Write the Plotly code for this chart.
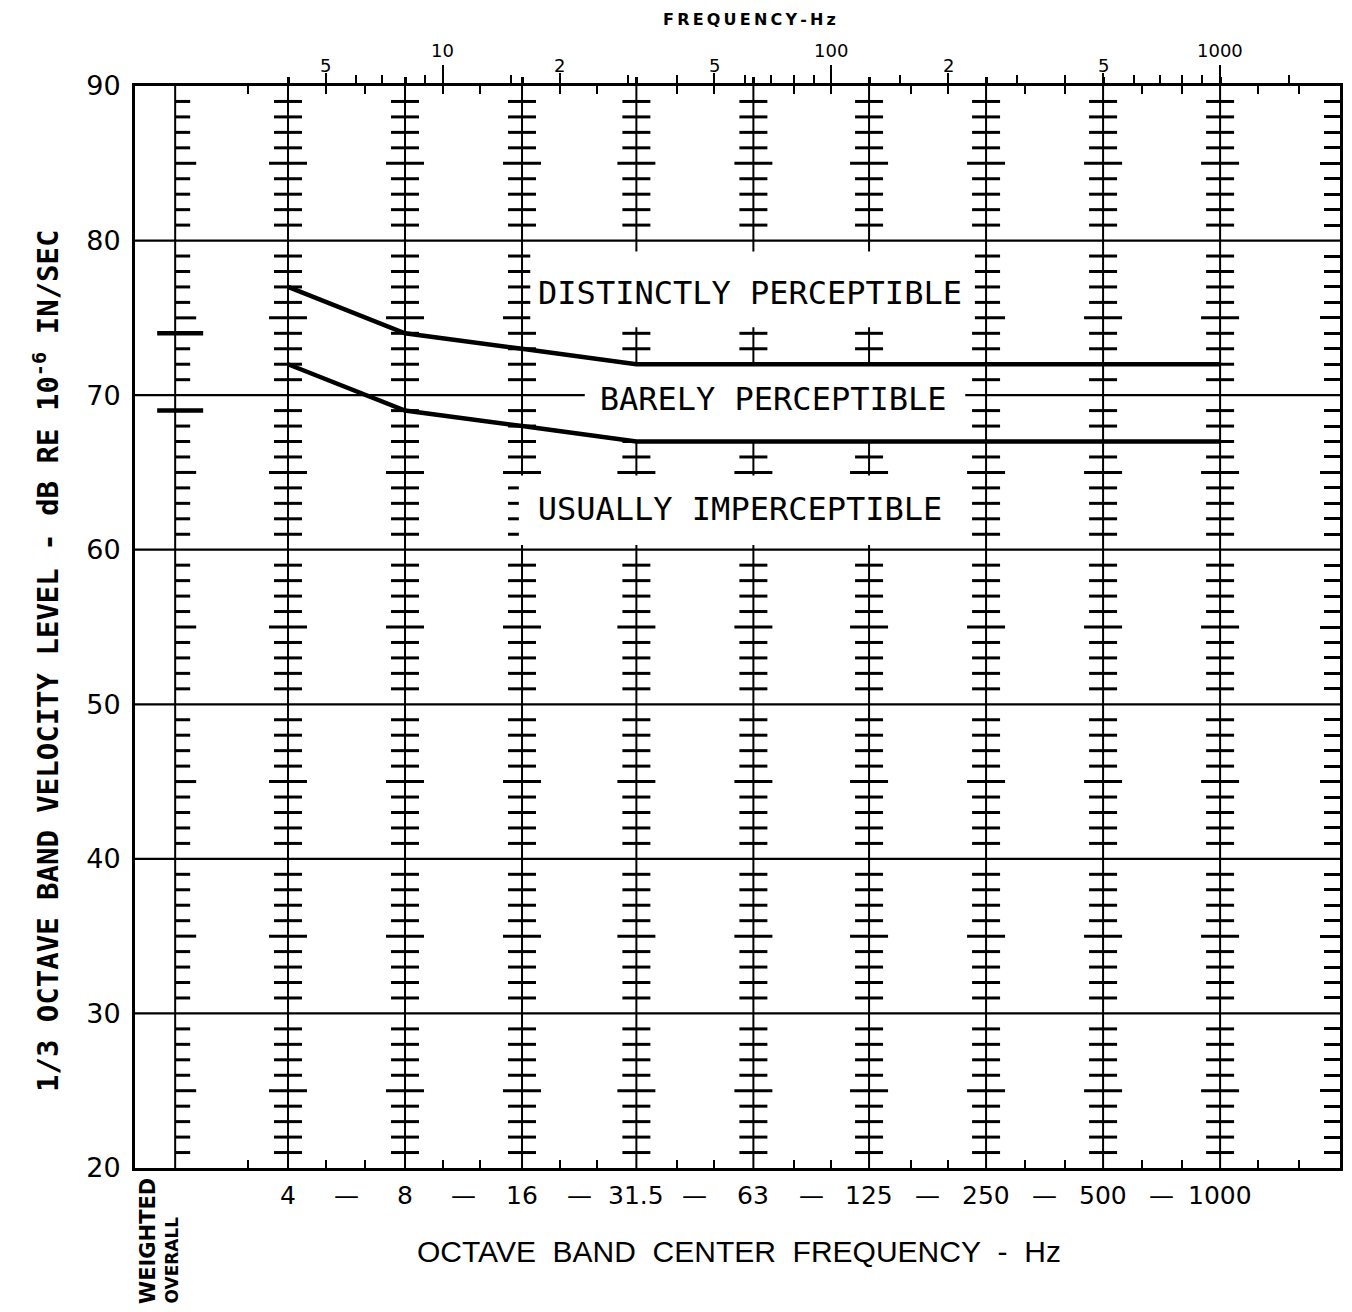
import numpy as np
import plotly.graph_objects as go

# ---------------------------------------------------------------------------
# Data
# ---------------------------------------------------------------------------
# Octave band centre frequencies (Hz) and the labels printed under them
octave_bands = [4, 8, 16, 31.5, 63, 125, 250, 500, 1000]
octave_labels = ["4", "8", "16", "31.5", "63", "125", "250", "500", "1000"]

# Perception thresholds, 1/3 octave band velocity level (dB re 1e-6 in/sec)
distinct_threshold = [77, 74, 73, 72, 72, 72, 72, 72, 72]
barely_threshold = [72, 69, 68, 67, 67, 67, 67, 67, 67]

# Weighted overall levels for the same two thresholds
weighted_overall = [74, 69]

# Level axis tick values
level_ticks = [20, 30, 40, 50, 60, 70, 80, 90]

# Top frequency scale (Hz): labelled ticks, decade ticks, intermediate ticks
freq_scale_labels = {5: "5", 10: "10", 20: "2", 50: "5", 100: "100",
                     200: "2", 500: "5", 1000: "1000"}
decades = [10, 100, 1000]
freq_scale_minor = [6, 7, 9, 15, 30, 40, 60, 70, 80, 90, 150, 300, 400,
                    600, 700, 800, 900, 1500]
# 1/3 octave band centres lying between the octave bands
third_octave_between = [3.15, 5, 6.3, 10, 12.5, 20, 25, 40, 50, 80, 100,
                        160, 200, 315, 400, 630, 800, 1250, 1600]

region_labels = ["DISTINCTLY PERCEPTIBLE", "BARELY PERCEPTIBLE",
                 "USUALLY IMPERCEPTIBLE"]

# ---------------------------------------------------------------------------
# Geometry
# ---------------------------------------------------------------------------
W, H = 1352, 1312
PLOT_L, PLOT_R, PLOT_T, PLOT_B = 135, 1340, 86, 1168
X_LOG = [0.2084, 3.3085]          # log10(Hz) range of the frequency axis
Y_RANGE = [20, 90]
PX_PER_DECADE = (PLOT_R - PLOT_L) / (X_LOG[1] - X_LOG[0])
WEIGHTED_F = 2.05                 # position of the weighted-overall column

INK = "black"
SANS = "DejaVu Sans"
MONO = "DejaVu Sans Mono"


def shift(f, px):
    """Frequency offset from f by px pixels along the log axis."""
    return f * 10 ** (px / PX_PER_DECADE)


def paper_x(px):
    return (px - PLOT_L) / (PLOT_R - PLOT_L)


def paper_y(py):
    return (PLOT_B - py) / (PLOT_B - PLOT_T)


fig = go.Figure()

# Horizontal grid lines every 10 dB
gx, gy = [], []
for lv in level_ticks[1:-1]:
    gx += [10 ** X_LOG[0], 10 ** X_LOG[1], None]
    gy += [lv, lv, None]
fig.add_trace(go.Scatter(x=gx, y=gy, mode="lines",
                         line=dict(color=INK, width=2.2),
                         hoverinfo="skip", showlegend=False))

# Octave band scales: vertical bar with a tick every dB
vx, vy, tx, ty = [], [], [], []
for f in octave_bands:
    vx += [f, f, None]
    vy += [Y_RANGE[0], Y_RANGE[1], None]
    for lv in range(Y_RANGE[0] + 1, Y_RANGE[1]):
        if lv % 10 == 0:
            continue
        half = 19 if lv % 5 == 0 else 14
        tx += [shift(f, -half), shift(f, half), None]
        ty += [lv, lv, None]

# Weighted overall column: ticks to the right only
vx += [WEIGHTED_F, WEIGHTED_F, None]
vy += [Y_RANGE[0], Y_RANGE[1], None]
for lv in range(Y_RANGE[0] + 1, Y_RANGE[1]):
    if lv % 10 == 0:
        continue
    length = 21 if lv % 5 == 0 else 15
    tx += [WEIGHTED_F, shift(WEIGHTED_F, length), None]
    ty += [lv, lv, None]

fig.add_trace(go.Scatter(x=vx, y=vy, mode="lines",
                         line=dict(color=INK, width=2),
                         hoverinfo="skip", showlegend=False))
fig.add_trace(go.Scatter(x=tx, y=ty, mode="lines",
                         line=dict(color=INK, width=3),
                         hoverinfo="skip", showlegend=False))

# Blank panels behind the region captions
panels = [((16.8, 234), (74.4, 79.3)),
          ((23.2, 221), (67.0, 72.0)),
          ((15.7, 221), (60.3, 64.8))]
for (f0, f1), (l0, l1) in panels:
    fig.add_trace(go.Scatter(x=[f0, f1, f1, f0, f0], y=[l0, l0, l1, l1, l0],
                             mode="lines", fill="toself", fillcolor="white",
                             line=dict(width=0, color="white"),
                             hoverinfo="skip", showlegend=False))

# Threshold curves
for levels in (distinct_threshold, barely_threshold):
    fig.add_trace(go.Scatter(x=octave_bands, y=levels, mode="lines",
                             line=dict(color=INK, width=4.5),
                             hoverinfo="skip", showlegend=False))

# Weighted overall threshold marks
wx, wy = [], []
for lv in weighted_overall:
    wx += [shift(WEIGHTED_F, -18), shift(WEIGHTED_F, 28), None]
    wy += [lv, lv, None]
fig.add_trace(go.Scatter(x=wx, y=wy, mode="lines",
                         line=dict(color=INK, width=4.5),
                         hoverinfo="skip", showlegend=False))

# Region captions
caption_pos = [(61.75, 76.4), (70.8, 69.55), (58.2, 62.45)]
fig.add_trace(go.Scatter(x=[p[0] for p in caption_pos],
                         y=[p[1] for p in caption_pos],
                         text=region_labels, mode="text",
                         textposition="middle center",
                         textfont=dict(family=MONO, size=32, color=INK),
                         hoverinfo="skip", showlegend=False))

# Invisible anchors so the overlay axes are drawn
for xa, ya in (("x2", "y"), ("x3", "y"), ("x4", "y"), ("x", "y2")):
    fig.add_trace(go.Scatter(x=[10], y=[50], xaxis=xa, yaxis=ya,
                             mode="markers", marker=dict(opacity=0),
                             hoverinfo="skip", showlegend=False))

log_axis = dict(type="log", range=X_LOG, showgrid=False, zeroline=False,
                showticklabels=False, linecolor=INK, tickcolor=INK)

fig.update_layout(
    width=W, height=H,
    margin=dict(l=PLOT_L, r=W - PLOT_R, t=PLOT_T, b=H - PLOT_B),
    paper_bgcolor="white", plot_bgcolor="white",
    showlegend=False,
    xaxis=dict(**log_axis, showline=True, linewidth=3, ticks="inside",
               tickmode="array", tickvals=third_octave_between,
               ticklen=8, tickwidth=2),
    xaxis2=dict(**log_axis, overlaying="x", side="top", showline=True,
                linewidth=3, ticks="outside", tickmode="array",
                tickvals=[f for f in freq_scale_labels if f not in decades],
                ticklen=10, tickwidth=2,
                minor=dict(tickmode="array", tickvals=freq_scale_minor,
                           ticks="outside", ticklen=8, tickwidth=2,
                           tickcolor=INK)),
    xaxis3=dict(**log_axis, overlaying="x", side="top", showline=False,
                ticks="inside", tickmode="array",
                tickvals=third_octave_between, ticklen=8, tickwidth=2,
                minor=dict(tickmode="array", tickvals=octave_bands,
                           ticks="outside", ticklen=8, tickwidth=2.5,
                           tickcolor=INK)),
    xaxis4=dict(**log_axis, overlaying="x", side="top", showline=False,
                ticks="outside", tickmode="array", tickvals=decades,
                ticklen=20, tickwidth=2),
    yaxis=dict(range=Y_RANGE, showline=True, linewidth=3, linecolor=INK,
               showgrid=False, zeroline=False, ticks="",
               tickmode="array", tickvals=level_ticks,
               ticklabelstandoff=6,
               tickfont=dict(family=SANS, size=27, color=INK)),
    yaxis2=dict(range=Y_RANGE, overlaying="y", side="right", showline=True,
                linewidth=2.5, linecolor=INK, showgrid=False, zeroline=False,
                showticklabels=False, ticks="inside", tickmode="array",
                tickvals=[v for v in range(25, 90, 10)], ticklen=20,
                tickwidth=2.5, tickcolor=INK,
                minor=dict(tickmode="array",
                           tickvals=[v for v in range(21, 90) if v % 5],
                           ticks="inside", ticklen=16, tickwidth=2.5,
                           tickcolor=INK)),
)

ann = []

# Top frequency scale labels
for f, label in freq_scale_labels.items():
    top = f in decades
    ann.append(dict(x=np.log10(f), xref="x", y=paper_y(50 if top else 66),
                    yref="paper", text=label, showarrow=False,
                    xanchor="center", yanchor="middle",
                    font=dict(family=SANS, size=18, color=INK)))

ann.append(dict(x=paper_x(749), xref="paper", y=paper_y(20), yref="paper",
                text="\u2009".join("FREQUENCY-Hz"), showarrow=False,
                xanchor="center", yanchor="middle",
                font=dict(family=SANS, size=16, color=INK, weight="bold")))

# Octave band labels with dashes between neighbours
for f, label in zip(octave_bands, octave_labels):
    ann.append(dict(x=np.log10(f), xref="x", y=paper_y(1195), yref="paper",
                    text=label, showarrow=False, xanchor="center",
                    yanchor="middle",
                    font=dict(family=SANS, size=25, color=INK)))
for f0, f1 in zip(octave_bands[:-1], octave_bands[1:]):
    ann.append(dict(x=np.log10(np.sqrt(f0 * f1)), xref="x",
                    y=paper_y(1195), yref="paper", text="\u2014",
                    showarrow=False, xanchor="center", yanchor="middle",
                    font=dict(family=SANS, size=25, color=INK)))

ann.append(dict(x=paper_x(739), xref="paper", y=paper_y(1251), yref="paper",
                text="OCTAVE\u00a0\u00a0BAND\u00a0\u00a0CENTER\u00a0\u00a0"
                     "FREQUENCY\u00a0\u00a0-\u00a0\u00a0Hz",
                showarrow=False, xanchor="center", yanchor="middle",
                font=dict(family="Liberation Sans", size=30, color=INK)))

# Weighted overall column caption
ann.append(dict(x=paper_x(148), xref="paper", y=paper_y(1306), yref="paper",
                text="WEIGHTED", textangle=-90, showarrow=False,
                xanchor="center", yanchor="bottom",
                font=dict(family=SANS, size=21, color=INK, weight="bold")))
ann.append(dict(x=paper_x(171), xref="paper", y=paper_y(1306), yref="paper",
                text="OVERALL", textangle=-90, showarrow=False,
                xanchor="center", yanchor="bottom",
                font=dict(family=SANS, size=17, color=INK, weight="bold")))

# Level axis title
ann.append(dict(x=paper_x(46), xref="paper", y=paper_y(661), yref="paper",
                text="1/3 OCTAVE BAND VELOCITY LEVEL - dB RE 10<sup>-6</sup> IN/SEC",
                textangle=-90, showarrow=False,
                xanchor="center", yanchor="middle",
                font=dict(family=MONO, size=29, color=INK, weight="bold")))

fig.update_layout(annotations=ann)

fig.write_html("out.html")
